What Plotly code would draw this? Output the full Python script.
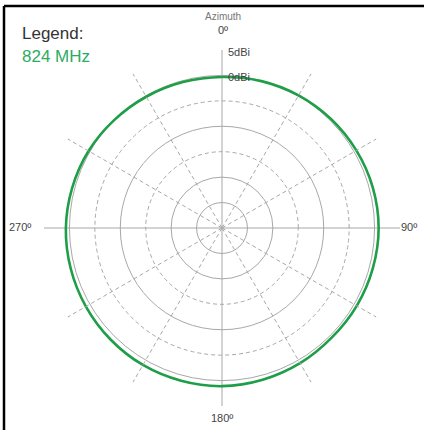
import plotly.graph_objects as go

# Measured pattern, 824 MHz (dBi) vs azimuth (deg)
azimuth_deg = [0, 15, 30, 45, 60, 75, 90, 105, 120, 135, 150, 165, 180,
               195, 210, 225, 240, 255, 270, 285, 300, 315, 330, 345, 360]
gain_824 = [-0.3, -0.1, 0.1, 0.3, 0.5, 0.7, 0.8, 0.7, 0.6, 0.5, 0.7, 0.9, 1.1,
            1.1, 1.1, 1.0, 0.9, 0.8, 0.7, 0.5, 0.3, 0.0, -0.2, -0.3, -0.3]

solid_rings = [-25, -20, -10, 0, 5]
dashed_rings = [-15, -5]
solid_spokes = [0, 90, 180, 270]
dashed_spokes = [30, 60, 120, 150, 210, 240, 300, 330]
r_range = [-30, 5]

W, H = 424, 430
cx, cy, R = 222, 228, 178
xd = [(cx - R) / W, (cx + R) / W]
yd = [(H - cy - R) / H, (H - cy + R) / H]

grid_col = "#a8a8a8"

def polar_layout(rings, spokes, dash):
    return dict(
        domain=dict(x=xd, y=yd),
        bgcolor="rgba(0,0,0,0)",
        radialaxis=dict(range=r_range, tickvals=rings, showticklabels=False,
                        ticks="", showline=False, gridcolor=grid_col,
                        gridwidth=1.1, griddash=dash),
        angularaxis=dict(rotation=90, direction="clockwise", tickvals=spokes,
                         showticklabels=False, ticks="", showline=False,
                         gridcolor=grid_col, gridwidth=1.1, griddash=dash),
    )

fig = go.Figure()
fig.add_trace(go.Scatterpolar(r=[r_range[0]], theta=[0], mode="markers",
                              marker=dict(opacity=0), showlegend=False,
                              subplot="polar2", hoverinfo="skip"))
fig.add_trace(go.Scatterpolar(r=gain_824, theta=azimuth_deg, mode="lines",
                              line=dict(color="#1f9e48", width=2.6, shape="spline"),
                              showlegend=False, subplot="polar"))

fig.update_layout(
    width=W, height=H,
    margin=dict(l=0, r=0, t=0, b=0),
    paper_bgcolor="white",
    plot_bgcolor="white",
    font=dict(family="Liberation Sans, Arial, sans-serif"),
    polar2=polar_layout(dashed_rings, dashed_spokes, "4px,3px"),
    polar=polar_layout(solid_rings, solid_spokes, "solid"),
)

def ann(x, y, text, size, color, xanchor="center"):
    fig.add_annotation(x=x / W, y=1 - y / H, xref="paper", yref="paper",
                       text=text, showarrow=False, xanchor=xanchor,
                       yanchor="middle", font=dict(size=size, color=color))

ann(20, 33, "Legend:", 17, "#333333", "left")
ann(20, 56, "824 MHz", 17, "#2eab62", "left")
ann(223, 16, "Azimuth", 10, "#777777")
ann(223, 30, "0º", 11, "#444444")
ann(226, 52, "5dBi", 11, "#444444", "left")
ann(226, 77, "0dBi", 11, "#444444", "left")
ann(409, 227, "90º", 11, "#444444")
ann(20, 227, "270º", 11, "#444444")
ann(222, 418, "180º", 11, "#444444")

# frame lines (top and left edges of the screenshot)
fig.add_shape(type="line", xref="paper", yref="paper", x0=4 / W, x1=1,
              y0=1 - 6 / H, y1=1 - 6 / H, line=dict(color="black", width=2.5))
fig.add_shape(type="line", xref="paper", yref="paper", x0=4 / W, x1=4 / W,
              y0=0, y1=1 - 6 / H, line=dict(color="black", width=2.5))

fig.write_html("out.html", config={"displayModeBar": False},
               post_script="document.body.style.margin='0';document.body.style.overflow='hidden';")
